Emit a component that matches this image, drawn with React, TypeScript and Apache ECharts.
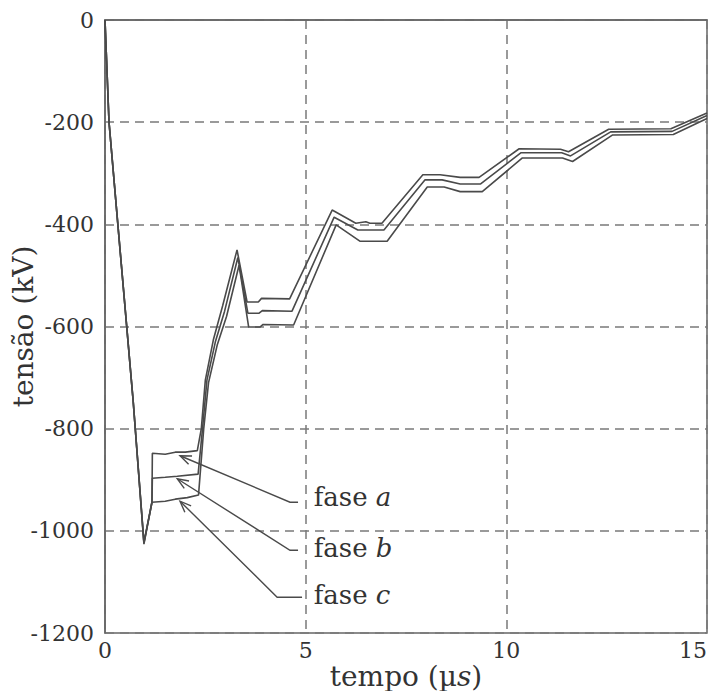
import React, { useEffect, useRef } from "react";
import * as echarts from "echarts";

// time (µs), voltage (kV)
const faseA: [number, number][] = [
  [0, 0], [0.1, -200], [0.32, -400], [0.7, -744], [0.97, -1022], [1.17, -944], [1.18, -848],
  [1.5, -850], [1.75, -846], [2.0, -846], [2.3, -843], [2.4, -800], [2.5, -705], [2.7, -626],
  [2.93, -560], [3.29, -450], [3.54, -552], [3.82, -552], [3.9, -545], [4.6, -546],
  [5.66, -372], [6.25, -398], [6.5, -395], [6.6, -398], [6.9, -398], [7.92, -303],
  [8.35, -303], [8.85, -308], [9.32, -308], [10.32, -252], [11.35, -253], [11.55, -258],
  [12.55, -214], [14.1, -213], [15, -182],
];
const faseB: [number, number][] = [
  [0, 0], [0.1, -200], [0.32, -400], [0.7, -744], [0.97, -1024], [1.17, -944], [1.18, -897],
  [1.5, -895], [1.8, -893], [2.32, -889], [2.43, -800], [2.54, -705], [2.75, -630],
  [2.98, -570], [3.31, -465], [3.56, -574], [3.84, -574], [3.92, -569], [4.66, -570],
  [5.71, -386], [6.3, -411], [6.95, -411], [7.97, -313], [8.4, -313], [8.85, -321],
  [9.36, -321], [10.36, -260], [11.38, -260], [11.6, -266], [12.6, -219], [14.13, -218],
  [15, -187],
];
const faseC: [number, number][] = [
  [0, 0], [0.1, -200], [0.32, -400], [0.7, -744], [0.97, -1026], [1.17, -944],
  [1.5, -942], [1.75, -938], [2.05, -935], [2.33, -930], [2.46, -800], [2.58, -710],
  [2.8, -635], [3.03, -580], [3.34, -480], [3.58, -601], [3.86, -601], [3.94, -596],
  [4.7, -597], [5.76, -401], [6.35, -433], [7.03, -433], [8.03, -327], [8.45, -327],
  [8.85, -336], [9.4, -336], [10.4, -270], [11.4, -270], [11.65, -277], [12.65, -225],
  [14.16, -224], [15, -193],
];

const xTicks = [0, 5, 10, 15];
const yTicks = [0, -200, -400, -600, -800, -1000, -1200];

// annotations: label letter, arrow tip, elbow, segment end, label anchor (data coords)
const phaseLetters = ["a", "b", "c"];
const arrowTips: [number, number][] = [[1.87, -853], [1.8, -898], [1.87, -942]];
const elbows: [number, number][] = [[4.61, -944], [4.61, -1038], [4.29, -1130]];
const segEnds: [number, number][] = [[4.81, -944], [4.81, -1038], [4.91, -1130]];
const labelAnchors: [number, number][] = [[5.2, -934], [5.2, -1034], [5.2, -1125]];

const FONT = "DejaVu Serif";
const TEXT = "#333";
const LINE = "#4a4a4a";

export default function App() {
  const ref = useRef<HTMLDivElement>(null);
  useEffect(() => {
    if (!ref.current) return;
    const chart = echarts.init(ref.current, undefined, { renderer: "svg" });
    const mk = (name: string, data: [number, number][]) => ({
      name,
      type: "line",
      data,
      showSymbol: false,
      symbol: "none",
      lineStyle: { color: LINE, width: 1.6 },
      z: 3,
    });
    chart.setOption({
      animation: false,
      backgroundColor: "#fff",
      grid: {
        left: 105, right: 9, top: 20, bottom: 66,
        show: true, borderColor: "#666", borderWidth: 1.5,
        containLabel: false,
        outerBoundsMode: "none",
      },
      xAxis: {
        type: "value",
        min: xTicks[0],
        max: xTicks[xTicks.length - 1],
        interval: 5,
        name: "tempo (µ{i|s})",
        nameLocation: "middle",
        nameGap: 29,
        nameMoveOverlap: false,
        nameTextStyle: {
          fontFamily: FONT, fontSize: 28, color: TEXT,
          rich: { i: { fontFamily: FONT, fontSize: 28, color: TEXT, fontStyle: "italic" } },
        },
        axisLine: { show: true, lineStyle: { color: "#666", width: 1.5 } },
        axisTick: { show: false },
        axisLabel: {
          fontFamily: FONT, fontSize: 22, color: TEXT, margin: 6,
          alignMaxLabel: "right",
          formatter: (v: number) => String(v),
        },
        splitLine: { show: true, lineStyle: { color: "#7a7a7a", width: 1.5, type: [9, 6] } },
      },
      yAxis: {
        type: "value",
        min: yTicks[yTicks.length - 1],
        max: yTicks[0],
        interval: 200,
        name: "tensão (kV)",
        nameLocation: "middle",
        nameGap: 68,
        nameRotate: 90,
        nameMoveOverlap: false,
        nameTextStyle: { fontFamily: FONT, fontSize: 28, color: TEXT },
        axisLine: { show: true, lineStyle: { color: "#666", width: 1.5 } },
        axisTick: { show: false },
        axisLabel: { fontFamily: FONT, fontSize: 22, color: TEXT, margin: 11, formatter: (v: number) => String(v) },
        splitLine: { show: true, lineStyle: { color: "#7a7a7a", width: 1.5, type: [9, 6] } },
      },
      series: [mk("fase a", faseA), mk("fase b", faseB), mk("fase c", faseC)],
    });

    const px = (p: [number, number]) => chart.convertToPixel({ gridIndex: 0 }, p) as number[];
    const graphics: any[] = [];
    phaseLetters.forEach((letter, i) => {
      const tip = px(arrowTips[i]);
      const el = px(elbows[i]);
      const se = px(segEnds[i]);
      const lab = px(labelAnchors[i]);
      graphics.push({
        type: "polyline",
        shape: { points: [tip, el, se] },
        style: { stroke: LINE, lineWidth: 1.4, fill: "none" },
        z: 10,
      });
      const ang = Math.atan2(el[1] - tip[1], el[0] - tip[0]);
      const L = 12, spread = 0.38;
      const p1 = [tip[0] + L * Math.cos(ang + spread), tip[1] + L * Math.sin(ang + spread)];
      const p2 = [tip[0] + L * Math.cos(ang - spread), tip[1] + L * Math.sin(ang - spread)];
      graphics.push({
        type: "polyline",
        shape: { points: [p1, tip, p2] },
        style: { stroke: LINE, lineWidth: 1.4, fill: "none" },
        z: 10,
      });
      graphics.push({
        type: "text",
        x: lab[0],
        y: lab[1],
        style: {
          text: "{n|fase }{i|" + letter + "}",
          verticalAlign: "middle",
          align: "left",
          rich: {
            n: { fontFamily: FONT, fontSize: 26, fill: TEXT },
            i: { fontFamily: FONT, fontSize: 26, fill: TEXT, fontStyle: "italic" },
          },
        },
        z: 10,
      });
    });
    chart.setOption({ graphic: graphics });

    return () => chart.dispose();
  }, []);
  return <div ref={ref} style={{ width: 716, height: 699, margin: -8 }} />;
}
